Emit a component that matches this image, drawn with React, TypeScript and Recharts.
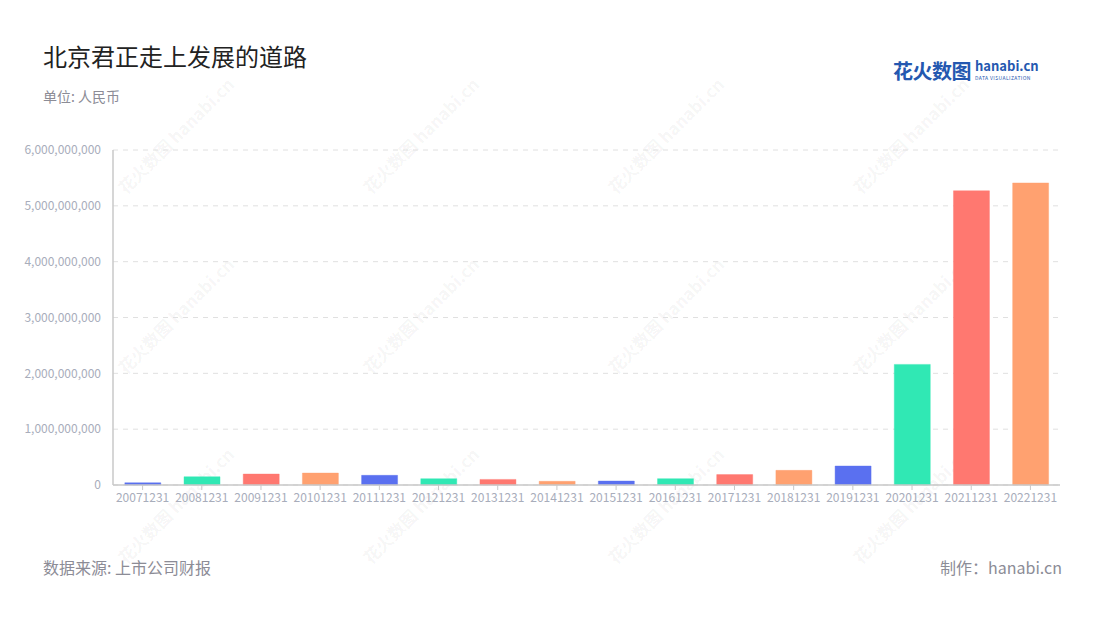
import React from 'react';
import { BarChart, Bar, XAxis, YAxis, CartesianGrid, Cell } from 'recharts';

const categories = [
  '20071231', '20081231', '20091231', '20101231', '20111231', '20121231', '20131231', '20141231',
  '20151231', '20161231', '20171231', '20181231', '20191231', '20201231', '20211231', '20221231',
];

const revenue = [
  40000000, 148000000, 196000000, 214000000, 173000000, 113000000, 100000000, 66000000,
  71000000, 114000000, 186000000, 262000000, 340000000, 2160000000, 5270000000, 5410000000,
];

const yTicks = [0, 1000000000, 2000000000, 3000000000, 4000000000, 5000000000, 6000000000];

const palette = ['#5a70f0', '#30e8b4', '#ff7870', '#ffa170'];

const font = '"Noto Sans CJK SC", "Noto Sans", sans-serif';

const data = categories.map((date, i) => ({ date, value: revenue[i] }));

const fmt = (v: number) => v.toLocaleString('en-US');

// faint diagonal watermark, repeated over the page
function Watermark({ x, y }: { x: number; y: number }) {
  return (
    <div
      style={{
        position: 'absolute',
        left: x - 70,
        top: y - 12,
        width: 140,
        transform: 'rotate(-45deg)',
        color: 'rgba(0,0,0,0.05)',
        fontFamily: font,
        fontWeight: 700,
        fontSize: 17,
        whiteSpace: 'nowrap',
        textAlign: 'center',
        pointerEvents: 'none',
      }}
    >
      花火数图 hanabi.cn
    </div>
  );
}

const marks = [
  [170, 140], [415, 140], [660, 140], [905, 140],
  [170, 320], [415, 320], [660, 320], [905, 320],
  [170, 510], [415, 510], [660, 510], [905, 510],
];

export default function App() {
  return (
    <div style={{ position: 'absolute', left: 0, top: 0, width: 1100, height: 620, background: '#fff', fontFamily: font }}>
      {marks.map(([x, y], i) => (
        <Watermark key={i} x={x} y={y} />
      ))}
      <div style={{ position: 'absolute', left: 43, top: 38, fontSize: 24, color: '#222' }}>北京君正走上发展的道路</div>
      <div style={{ position: 'absolute', left: 43, top: 86, fontSize: 14, color: '#8c8c96' }}>单位: 人民币</div>
      <div style={{ position: 'absolute', left: 893, top: 60, display: 'flex', alignItems: 'center' }}>
        <span style={{ fontSize: 20, fontWeight: 700, color: '#2458b0', letterSpacing: -0.5, lineHeight: 1 }}>花火数图</span>
        <div style={{ marginLeft: 4 }}>
          <div style={{ fontSize: 13, fontWeight: 700, color: '#2458b0', lineHeight: '12px' }}>hanabi.cn</div>
          <div style={{ fontSize: 5, color: '#2458b0', letterSpacing: 0.4, lineHeight: '6px', marginTop: 3 }}>DATA VISUALIZATION</div>
        </div>
      </div>
      <div style={{ position: 'absolute', left: 43, top: 555, fontSize: 16, color: '#8c8c96' }}>数据来源: 上市公司财报</div>
      <div style={{ position: 'absolute', right: 38, top: 555, fontSize: 16, color: '#8c8c96' }}>制作：hanabi.cn</div>
      <div style={{ position: 'absolute', left: 0, top: 0 }}>
        <BarChart
          width={1100}
          height={620}
          data={data}
          margin={{ top: 150, right: 40, bottom: 105, left: 0 }}
          barCategoryGap="20%"
        >
          <CartesianGrid vertical={false} stroke="#e0e0e0" strokeDasharray="5 5" />
          <XAxis
            dataKey="date"
            height={30}
            interval={0}
            tick={{ fill: '#a8adbb', fontSize: 12, fontFamily: font }}
            tickLine={{ stroke: '#c8c8c8' }}
            axisLine={{ stroke: '#c8c8c8', strokeWidth: 1.5 }}
            tickSize={5}
            tickMargin={3}
          />
          <YAxis
            width={113}
            domain={[0, 6000000000]}
            ticks={yTicks}
            tickFormatter={fmt}
            tick={{ fill: '#a8adbb', fontSize: 12, fontFamily: font }}
            tickLine={false}
            axisLine={{ stroke: '#c8c8c8', strokeWidth: 1.5 }}
            tickMargin={6}
          />
          <Bar dataKey="value" isAnimationActive={false}>
            {data.map((d, i) => (
              <Cell key={d.date} fill={palette[i % 4]} stroke={palette[i % 4]} strokeOpacity={0.4} />
            ))}
          </Bar>
        </BarChart>
      </div>
    </div>
  );
}
